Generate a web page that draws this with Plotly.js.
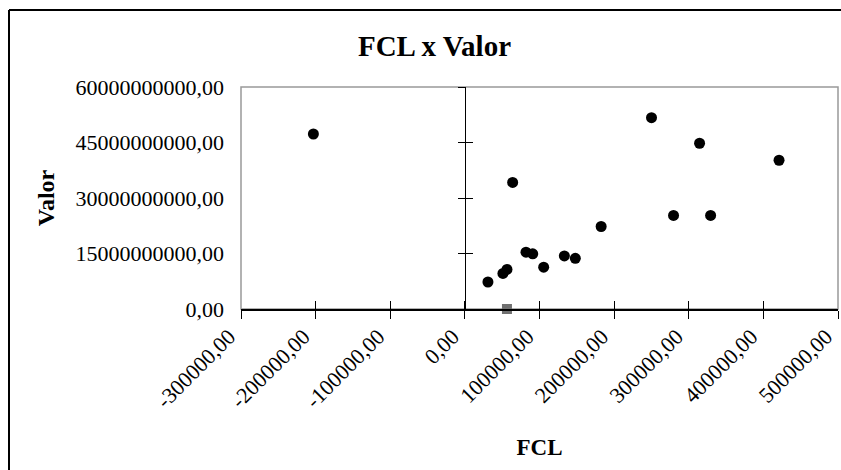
<!DOCTYPE html>
<html>
<head>
<meta charset="utf-8">
<script src="https://cdn.plot.ly/plotly-3.0.1.min.js"></script>
<style>
html,body{margin:0;padding:0;background:#fff;}
#chart{width:841px;height:470px;}
</style>
</head>
<body>
<div id="chart"></div>
<script>
// Data
const fcl   = [-203000, 64000, 30900, 51000, 56400, 81900, 90900, 105600, 133300, 148000, 182600, 250100, 279600, 314500, 329300, 421000];
const valor = [47.3e9, 34.2e9, 7.3e9, 9.6e9, 10.7e9, 15.35e9, 14.9e9, 11.3e9, 14.35e9, 13.7e9, 22.3e9, 51.7e9, 25.3e9, 44.8e9, 25.3e9, 40.2e9];
const extraX = [56400];
const extraY = [0];

const xRange = [-300000, 500000];
const yRange = [0, 60000000000];
const xTicks = [-300000, -200000, -100000, 0, 100000, 200000, 300000, 400000, 500000];
const yTicks = [0, 15000000000, 30000000000, 45000000000, 60000000000];
const fmt = v => v.toFixed(2).replace('.', ',');
const xTickText = xTicks.map(fmt);
const yTickText = yTicks.map(fmt);

const FONT = "'Liberation Serif', 'Times New Roman', serif";

const traces = [
  {x: fcl, y: valor, type: 'scatter', mode: 'markers', xaxis: 'x', yaxis: 'y',
   marker: {color: '#000000', size: 11, symbol: 'circle'}, hoverinfo: 'x+y', cliponaxis: false},
  {x: extraX, y: extraY, type: 'scatter', mode: 'markers', xaxis: 'x', yaxis: 'y',
   marker: {color: '#707070', size: 10, symbol: 'square'}, cliponaxis: false},
  // helper traces so overlay axes are drawn
  {x: xRange, y: yRange, type: 'scatter', mode: 'markers', xaxis: 'x2', yaxis: 'y2', marker: {opacity: 0}, hoverinfo: 'skip'},
  {x: xRange, y: yRange, type: 'scatter', mode: 'markers', xaxis: 'x', yaxis: 'y3', marker: {opacity: 0}, hoverinfo: 'skip'}
];

const L = 241, R = 838, T = 87, B = 309, W = 841, H = 470;
const pw = R - L, ph = B - T;
const px = v => (v - L) / pw;
const py = v => 1 - (v - T) / ph;
const zeroPos = (0 - xRange[0]) / (xRange[1] - xRange[0]);

const layout = {
  width: W, height: H,
  margin: {l: L, r: W - R, t: T, b: H - B, pad: 0},
  paper_bgcolor: '#ffffff', plot_bgcolor: '#ffffff',
  showlegend: false,
  font: {family: FONT, color: '#000000', size: 22},
  title: {text: '<b>FCL x Valor</b>', font: {family: FONT, size: 29, color: '#000'},
          xref: 'container', x: 434.5 / W, xanchor: 'center',
          yref: 'container', y: 1 - 46 / H, yanchor: 'middle'},
  xaxis: {
    range: xRange, tickvals: xTicks, ticktext: xTickText, tickangle: -45,
    ticklabeloverflow: 'allow', ticklabelshift: -12, ticklabelstandoff: -4,
    ticks: 'outside', ticklen: 8, tickwidth: 1, tickcolor: '#000',
    showline: true, linecolor: '#000', linewidth: 2,
    showgrid: false, zeroline: false, anchor: 'y',
    tickfont: {family: FONT, size: 22, color: '#000'},
    title: {text: '<b>FCL</b>', font: {family: FONT, size: 23, color: '#000'}, standoff: 27},
    automargin: false
  },
  xaxis2: {
    range: xRange, tickvals: xTicks, overlaying: 'x', anchor: 'y',
    ticks: 'inside', ticklen: 8, tickwidth: 1, tickcolor: '#000',
    showticklabels: false, showline: false, showgrid: false, zeroline: false
  },
  yaxis: {
    range: yRange, tickvals: yTicks, ticktext: yTickText,
    ticks: '', showline: false, showgrid: false, zeroline: false,
    ticklabelstandoff: 16, ticklabeloverflow: 'allow',
    tickfont: {family: FONT, size: 22, color: '#000'},
    title: {text: '<b>Valor</b>', font: {family: FONT, size: 24, color: '#000'}, standoff: 14},
    automargin: false
  },
  yaxis2: {
    range: yRange, tickvals: yTicks, overlaying: 'y', anchor: 'free', position: zeroPos,
    ticks: 'inside', ticklen: 7, tickwidth: 1, tickcolor: '#000',
    showline: true, linecolor: '#000', linewidth: 1.5,
    showticklabels: false, showgrid: false, zeroline: false
  },
  yaxis3: {
    range: yRange, tickvals: yTicks, overlaying: 'y', anchor: 'free', position: zeroPos,
    ticks: 'outside', ticklen: 7, tickwidth: 1, tickcolor: '#000',
    showline: false, showticklabels: false, showgrid: false, zeroline: false
  },
  shapes: [
    {type: 'rect', xref: 'paper', yref: 'paper', x0: 0, x1: 1, y0: 0, y1: 1,
     line: {color: '#999999', width: 1.5}, layer: 'below'},
    {type: 'line', xref: 'paper', yref: 'paper', x0: px(9), x1: px(9), y0: py(10), y1: py(480),
     line: {color: '#000', width: 2}},
    {type: 'line', xref: 'paper', yref: 'paper', x0: px(9), x1: px(845), y0: py(10), y1: py(10),
     line: {color: '#000', width: 2}}
  ]
};

Plotly.newPlot('chart', traces, layout, {staticPlot: true, displayModeBar: false});
</script>
</body>
</html>
